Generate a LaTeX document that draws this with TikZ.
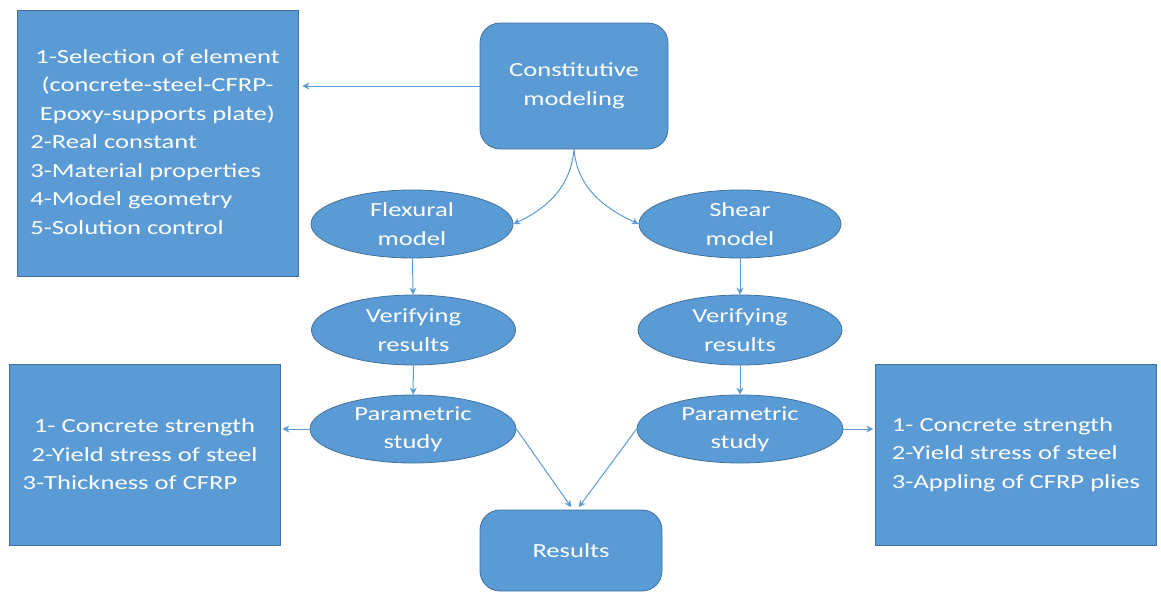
\documentclass[tikz,border=0pt]{standalone}
\usepackage{fontspec}
\setmainfont{Carlito}[FakeStretch=1.33]
\usetikzlibrary{arrows.meta,shapes.geometric}
\definecolor{boxfill}{HTML}{5B9BD5}
\definecolor{boxline}{HTML}{41719C}
\begin{document}
\begin{tikzpicture}[x=1pt,y=-1pt,
  every node/.style={text=white, font=\fontsize{20}{28.5}\selectfont},
  sqbox/.style={draw=boxline, fill=boxfill, line width=0.8pt, inner sep=0pt},
  rbox/.style={sqbox, rounded corners=20pt},
  oval/.style={ellipse, draw=boxline, fill=boxfill, line width=0.8pt, minimum width=202pt, minimum height=68pt, inner sep=0pt, align=center},
  arr/.style={draw=boxfill, line width=1pt, -{Stealth[length=7pt,width=7pt]}}]
\useasboundingbox (0,0) rectangle (1161,592);

\node[sqbox, minimum width=281pt, minimum height=266pt] (sel) at (157.5,143)
  {\begin{tabular}{@{}l@{}}
   \multicolumn{1}{@{}c@{}}{1-Selection of element}\\
   \multicolumn{1}{@{}c@{}}{(concrete-steel-CFRP-}\\
   \multicolumn{1}{@{}c@{}}{Epoxy-supports plate)}\\
   \hspace*{-5pt}2-Real constant\\
   \hspace*{-5pt}3-Material properties\\
   \hspace*{-5pt}4-Model geometry\\
   \hspace*{-5pt}5-Solution control
   \end{tabular}};

\node[rbox, minimum width=188pt, minimum height=126pt, align=center] (cm) at (574,86) {Constitutive\\modeling};

\node[oval] (flex) at (412,224) {Flexural\\model};
\node[oval] (shear) at (740,224) {Shear\\model};
\node[oval, minimum width=204pt, minimum height=70pt] (ver1) at (413.5,330) {Verifying\\results};
\node[oval, minimum width=204pt, minimum height=70pt] (ver2) at (740,330) {Verifying\\results};
\node[oval, minimum width=206pt] (par1) at (413,429) {Parametric\\study};
\node[oval, minimum width=206pt] (par2) at (740,429) {Parametric\\study};

\node[sqbox, minimum width=271pt, minimum height=181pt, align=center] (pl) at (144.5,454.5)
  {1- Concrete strength\\2-Yield stress of steel\\\hspace*{-29pt}3-Thickness of CFRP};
\node[sqbox, minimum width=280.5pt, minimum height=181pt, align=left] (pr) at (1016,454.5)
  {1- Concrete strength\\2-Yield stress of steel\\3-Appling of CFRP plies};

\node[rbox, minimum width=182pt, minimum height=81pt] (res) at (571,550.5) {Results};

\draw[arr, shorten >=4pt] (cm.west) -- (sel.east |- cm.west);
\draw[arr] (cm.south) to[out=-95,in=25] (flex.east);
\draw[arr] (cm.south) to[out=-85,in=155] (shear.west);
\draw[arr] (flex) -- (ver1);
\draw[arr] (shear) -- (ver2);
\draw[arr] (ver1) -- (par1);
\draw[arr] (ver2) -- (par2);
\draw[arr, shorten >=2pt] (par1.west) -- (pl.east |- par1.west);
\draw[arr, shorten >=2pt] (par2.east) -- (pr.west |- par2.east);
\draw[arr, shorten >=3pt] (par1.east) -- ([xshift=2pt]res.north);
\draw[arr, shorten >=3pt] (par2.west) -- ([xshift=6pt]res.north);
\end{tikzpicture}
\end{document}
